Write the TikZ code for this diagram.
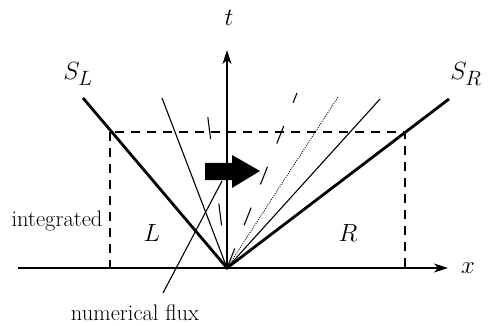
\documentclass[tikz,border=0pt]{standalone}
\usepackage{tikz}
\usetikzlibrary{arrows.meta,positioning}
\tikzset{
axis_line/.style={line width=1.4pt, -{Stealth[length=14pt,width=9pt,inset=4pt]}},
shock_line/.style={line width=2.8pt},
fan_line/.style={line width=1.1pt},
box_line/.style={line width=1.3pt, dash pattern=on 9pt off 7pt},
math_label/.style={font=\fontsize{30}{34}\selectfont},
text_label/.style={font=\fontsize{22.5}{26}\selectfont}
}

\begin{document}
\begin{tikzpicture}[x=1pt,y=-1pt]
    \useasboundingbox (0,0) rectangle (490,326);
    % points of the fan
    \coordinate (O) at (227,268);
    \coordinate (x_start) at (18,268);
    \coordinate (x_end) at (448,268);
    \coordinate (t_end) at (227,50);
    \coordinate (sl_end) at (83,98);
    \coordinate (sr_end) at (449,99);
    \coordinate (thin_l) at (162,98);
    \coordinate (dash_l) at (205,95);
    \coordinate (dash_r) at (297,93);
    \coordinate (dot_r) at (338,97);
    \coordinate (thin_r) at (380,99);
    \coordinate (flux_foot) at (163,293);
    \coordinate (flux_head) at (222,181);
    % integration box
    \draw[box_line] (110,132) rectangle (405,268);
    \draw[axis_line] (x_start) -- (x_end);
    \draw[axis_line] (O) -- (t_end);
    \draw[shock_line] (sl_end) -- (O) -- (sr_end);
    \draw[fan_line] (O) -- (thin_l);
    \draw[fan_line] (O) -- (thin_r);
    \draw[fan_line, dash pattern=on 22pt off 65pt, dash phase=44pt] (O) -- (dash_l);
    \draw[fan_line, dash pattern=on 19pt off 25pt, dash phase=42pt] (O) -- (dash_r);
    \draw[line width=0.8pt, dash pattern=on 1pt off 1.2pt] (O) -- (dot_r);
    \fill (205,163) -- (232,163) -- (232,155) -- (260,171) -- (232,188) -- (232,180) -- (205,180) -- cycle;
    \draw[fan_line] (flux_foot) -- (flux_head);
    % labels
    \node[math_label] (t_lab) at (229,18) {$t$};
    \node[math_label] (x_lab) at (468,268) {$x$};
    \node[math_label] (sl_lab) at (78,74) {$S_L$};
    \node[math_label] (sr_lab) at (466,74) {$S_R$};
    \node[math_label] (l_lab) at (152,233) {$L$};
    \node[math_label] (r_lab) at (348,233) {$R$};
    \node[text_label] (int_lab) at (57,221) {integrated};
    \node[text_label] (flux_lab) at (135,313) {numerical flux};
\end{tikzpicture}
\end{document}
